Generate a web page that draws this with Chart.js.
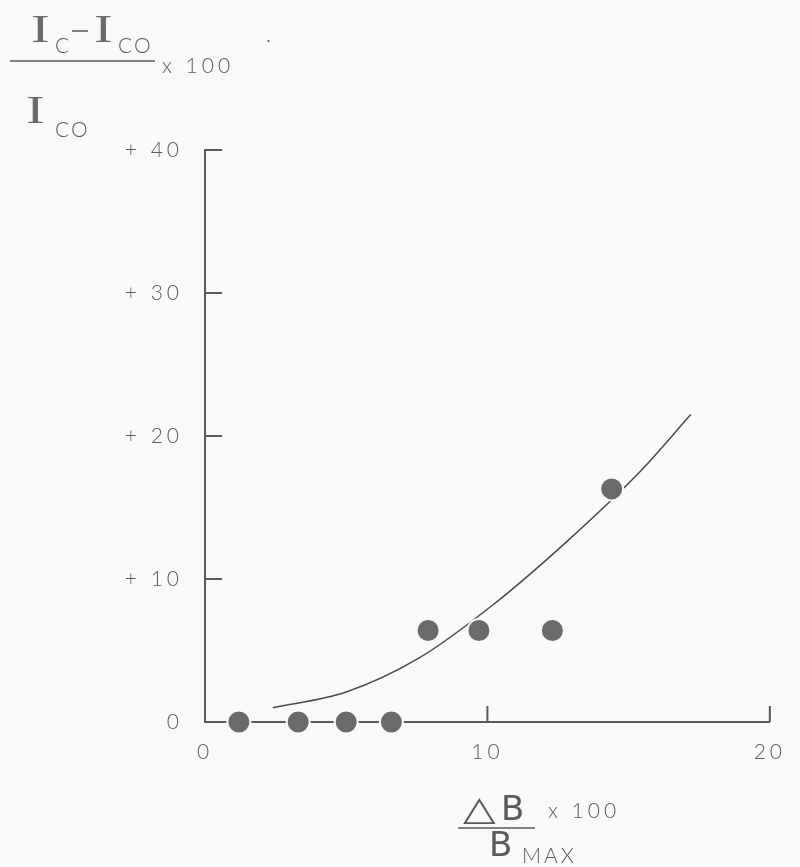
<!DOCTYPE html>
<html>
<head>
<meta charset="utf-8">
<script src="https://cdn.jsdelivr.net/npm/chart.js@4/dist/chart.umd.min.js"></script>
<style>
body{margin:0;background:#f9f9f7;}
#wrap{width:800px;height:867px;position:relative;}
</style>
</head>
<body>
<div id="wrap"><canvas id="cv"></canvas></div>
<script>
// measured points (delta B / Bmax x 100 , (Ic-Ico)/Ico x 100)
var deltaB = [1.2, 3.3, 5.0, 6.6, 7.9, 9.7, 12.3, 14.4];
var icChange = [0, 0, 0, 0, 6.4, 6.4, 6.4, 16.3];

// hand drawn curve
var curveX = [2.4, 5.0, 7.6, 10.2, 12.8, 15.4, 17.2];
var curveY = [1.0, 2.1, 4.5, 8.2, 12.6, 17.5, 21.5];

var xTickLabels = {0: '0', 10: '10', 20: '20'};
var yTickLabels = {0: '0', 10: '+ 10', 20: '+ 20', 30: '+ 30', 40: '+ 40'};

var ink = '#5a5a5a';
var paper = '#f9f9f7';

function pts(xs, ys){
  var out = [];
  for (var i = 0; i < xs.length; i++) out.push({x: xs[i], y: ys[i]});
  return out;
}

// wide spacing like the original lettering, only while drawing
var spacing = {
  id: 'spacing',
  beforeLayout: function(chart){ chart.ctx.letterSpacing = '0px'; },
  beforeDraw: function(chart){
    var c = chart.ctx;
    c.letterSpacing = '4px';
    c.save();
    c.fillStyle = paper;
    c.fillRect(0, 0, chart.width, chart.height);
    c.restore();
  }
};

// tick marks point inward on this plot
var innerTicks = {
  id: 'innerTicks',
  beforeDatasetsDraw: function(chart){
    var c = chart.ctx, xs = chart.scales.x, ys = chart.scales.y;
    c.save();
    c.strokeStyle = ink;
    c.lineWidth = 2;
    c.beginPath();
    [10, 20, 30, 40].forEach(function(v){
      var py = ys.getPixelForValue(v);
      c.moveTo(xs.left, py);
      c.lineTo(xs.left + 17, py);
    });
    [10, 20].forEach(function(v){
      var px = xs.getPixelForValue(v);
      c.moveTo(px, ys.bottom);
      c.lineTo(px, ys.bottom - 16);
    });
    c.stroke();
    c.restore();
  }
};

function wideText(c, txt, x, y, sx){
  c.save();
  c.translate(x, y);
  c.scale(sx, 1);
  c.fillText(txt, 0, 0);
  c.restore();
}

var axisTitles = {
  id: 'axisTitles',
  afterDraw: function(chart){
    var c = chart.ctx;
    c.save();
    c.fillStyle = ink;
    c.strokeStyle = ink;
    c.textAlign = 'left';
    c.textBaseline = 'alphabetic';
    c.letterSpacing = '0px';
    var big = '40px "Liberation Serif"';
    var sub = '300 21px Lato';

    // y title: (Ic - Ico) / Ico x 100
    c.fillStyle = '#6a6a6a';
    c.font = big; wideText(c, 'I', 31, 42, 1.4);
    c.font = big; wideText(c, 'I', 94, 42, 1.4);
    c.font = big; wideText(c, 'I', 26, 123, 1.4);
    c.fillStyle = ink;
    c.font = sub; c.fillText('C', 55, 53);
    c.lineWidth = 1.5;
    c.beginPath(); c.moveTo(72, 31); c.lineTo(88, 31); c.stroke();
    c.font = sub; c.letterSpacing = '2px'; c.fillText('CO', 118, 53);
    c.beginPath(); c.moveTo(10, 61); c.lineTo(155, 61); c.stroke();
    c.font = sub; c.letterSpacing = '4px'; c.fillText('x 100', 162, 73);
    c.fillText('.', 266, 42);
    c.letterSpacing = '2px'; c.fillText('CO', 55, 137);

    // x title: delta B / Bmax x 100
    c.letterSpacing = '0px';
    c.font = '34px "DejaVu Sans"';
    wideText(c, '\u25B3', 463, 820, 1.25);
    c.fillText('B', 501, 820);
    c.beginPath(); c.moveTo(458, 828); c.lineTo(535, 828); c.stroke();
    c.font = sub; c.letterSpacing = '4px'; c.fillText('x 100', 548, 818);
    c.letterSpacing = '0px';
    c.font = '34px "DejaVu Sans"';
    c.fillText('B', 489, 856);
    c.font = sub; c.letterSpacing = '3px'; c.fillText('MAX', 522, 863);
    c.restore();
  }
};

new Chart(document.getElementById('cv'), {
  type: 'scatter',
  data: {
    datasets: [
      {
        label: 'measured',
        data: pts(deltaB, icChange),
        pointRadius: 11.5,
        pointBackgroundColor: '#6a6a6a',
        pointBorderColor: paper,
        pointBorderWidth: 2,
        clip: false,
        order: 0
      },
      {
        label: 'curve',
        type: 'line',
        data: pts(curveX, curveY),
        borderColor: '#4a4a4a',
        borderWidth: 1.5,
        pointRadius: 0,
        cubicInterpolationMode: 'monotone',
        fill: false,
        clip: false,
        order: 1
      }
    ]
  },
  options: {
    responsive: true,
    maintainAspectRatio: false,
    animation: false,
    layout: {padding: {top: 150, right: 24, left: 0, bottom: 0}},
    plugins: {legend: {display: false}, tooltip: {enabled: false}},
    scales: {
      x: {
        type: 'linear', min: 0, max: 20,
        afterFit: function(s){ s.height = 145; },
        grid: {display: false, drawTicks: false},
        border: {display: true, color: ink, width: 2},
        ticks: {
          stepSize: 10, padding: 18, color: ink,
          font: {family: 'Lato', size: 21, weight: 300},
          callback: function(v){ return xTickLabels[v] !== undefined ? xTickLabels[v] : ''; }
        }
      },
      y: {
        type: 'linear', min: 0, max: 40,
        afterFit: function(s){ s.width = 205; },
        grid: {display: false, drawTicks: false},
        border: {display: true, color: ink, width: 2},
        ticks: {
          stepSize: 10, padding: 22, color: ink,
          font: {family: 'Lato', size: 21, weight: 300},
          callback: function(v){ return yTickLabels[v] !== undefined ? yTickLabels[v] : ''; }
        }
      }
    }
  },
  plugins: [spacing, innerTicks, axisTitles]
});
</script>
</body>
</html>
